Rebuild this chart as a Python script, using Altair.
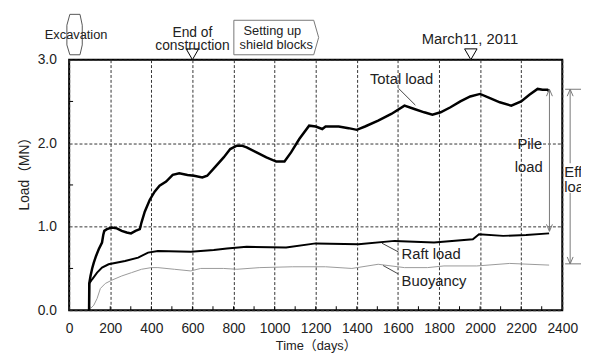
import altair as alt
import pandas as pd

# ---------------- data ----------------
total_days = [97, 98, 104, 112, 120, 131, 144, 160, 166, 171, 184, 208, 232, 256, 280, 301, 323, 344,
              352, 368, 392, 416, 440, 472, 504, 536, 576, 608, 648, 672, 712, 752, 784, 816, 840,
              864, 912, 960, 1008, 1048, 1080, 1120, 1168, 1200, 1232, 1248, 1312, 1360, 1400, 1440,
              1504, 1568, 1632, 1680, 1728, 1768, 1808, 1856, 1904, 1952, 2000, 2048, 2096, 2152,
              2200, 2240, 2280, 2304, 2328, 2336]
total_load = [0.0, 0.32, 0.41, 0.50, 0.57, 0.65, 0.73, 0.81, 0.90, 0.95, 0.97, 0.99, 0.98, 0.95, 0.93,
              0.92, 0.95, 0.97, 1.05, 1.18, 1.32, 1.42, 1.49, 1.54, 1.62, 1.64, 1.62, 1.61, 1.59, 1.61,
              1.72, 1.83, 1.93, 1.97, 1.97, 1.95, 1.89, 1.83, 1.78, 1.78, 1.89, 2.05, 2.21, 2.20, 2.17,
              2.20, 2.20, 2.18, 2.16, 2.20, 2.27, 2.35, 2.45, 2.41, 2.37, 2.34, 2.37, 2.43, 2.50, 2.56,
              2.59, 2.54, 2.49, 2.45, 2.50, 2.58, 2.65, 2.64, 2.64, 2.62]

raft_days = [97, 98, 112, 136, 160, 192, 272, 336, 384, 432, 592, 704, 768, 864, 1056, 1200, 1408,
             1584, 1776, 1965, 1995, 2112, 2224, 2336]
raft_load = [0.0, 0.32, 0.37, 0.45, 0.51, 0.55, 0.59, 0.63, 0.69, 0.71, 0.70, 0.72, 0.74, 0.76, 0.75,
             0.80, 0.79, 0.83, 0.81, 0.85, 0.91, 0.89, 0.90, 0.92]

buoy_days = [104, 120, 136, 152, 176, 208, 256, 304, 352, 400, 432, 512, 592, 640, 752, 816, 928,
             1088, 1248, 1376, 1504, 1632, 1744, 1824, 1984, 2144, 2336]
buoyancy = [0.02, 0.06, 0.14, 0.26, 0.32, 0.36, 0.41, 0.45, 0.49, 0.51, 0.51, 0.49, 0.47, 0.50, 0.50,
            0.49, 0.51, 0.52, 0.52, 0.50, 0.55, 0.51, 0.51, 0.53, 0.53, 0.56, 0.54]

x_ticks = list(range(0, 2401, 200))
x_minor = list(range(100, 2400, 100))
y_ticks = [0, 1, 2, 3]
y_minor = [0.5, 1.5, 2.5]

event_days = [600, 1955]
event_level = [3.065, 3.065]

center_labels = ["Excavation", "End of\nconstruction", "Setting up", "shield blocks",
                 "March11, 2011", "Total load", "Pile", "load"]
center_x = [34, 600, 989, 1008, 1951, 1618, 2242, 2237]
center_y = [3.295, 3.32, 3.343, 3.177, 3.248, 2.764, 1.984, 1.713]
center_size = [13, 14, 13, 13, 15, 15, 15, 15]

left_labels = ["Raft load", "Buoyancy", "Effective", "load"]
left_x = [1618, 1618, 2410, 2410]
left_y = [0.673, 0.354, 1.654, 1.476]

# outline shapes / leaders / arrows (in data units)
hex_x = [3.4, 52.8, 63.8, 63.8, 52.8, 3.4, -11, -11, 3.4]
hex_y = [3.543, 3.543, 3.413, 3.177, 3.059, 3.059, 3.177, 3.413, 3.543]
box_x = [801.6, 1190.4, 1214.4, 1190.4, 801.6, 801.6]
box_y = [3.472, 3.472, 3.266, 3.059, 3.059, 3.472]
lead_total_x, lead_total_y = [1603, 1685], [2.657, 2.456]
lead_raft_x, lead_raft_y = [1522, 1603], [0.803, 0.697]
lead_buoy_x, lead_buoy_y = [1528, 1600], [0.535, 0.437]
pile_x = 2337.6
pile_top, pile_bot = 2.646, 0.945
eff_x = 2438.4
eff_top, eff_bot = 2.646, 0.555
eff_gap = [1.76, 1.405]

# ---------------- build tables ----------------
def series_df(d, v):
    return pd.DataFrame({"day": d, "load": v})

shape_rows = []
def poly(name, xs, ys, color, width):
    for i, (a, b) in enumerate(zip(xs, ys)):
        shape_rows.append({"g": name, "o": i, "day": a, "load": b, "c": color, "w": width})

poly("hex", hex_x, hex_y, "#555", 1)
poly("box", box_x, box_y, "#777", 1)
poly("lt", lead_total_x, lead_total_y, "#444", 1)
poly("lr", lead_raft_x, lead_raft_y, "#444", 1)
poly("lb", lead_buoy_x, lead_buoy_y, "#444", 1)
hx, hy = 14.4, 0.083
poly("ps", [pile_x, pile_x], [pile_top, pile_bot], "#777", 1)
poly("pt", [pile_x - hx, pile_x, pile_x + hx], [pile_top - hy, pile_top, pile_top - hy], "#777", 1)
poly("pb", [pile_x - hx, pile_x, pile_x + hx], [pile_bot + hy, pile_bot, pile_bot + hy], "#777", 1)
poly("es1", [eff_x, eff_x], [eff_top, eff_gap[0]], "#777", 1)
poly("es2", [eff_x, eff_x], [eff_gap[1], eff_bot], "#777", 1)
poly("et", [eff_x - hx, eff_x, eff_x + hx], [eff_top - hy, eff_top, eff_top - hy], "#777", 1)
poly("eb", [eff_x - hx, eff_x, eff_x + hx], [eff_bot + hy, eff_bot, eff_bot + hy], "#777", 1)
poly("eh1", [2414, 2500], [eff_top, eff_top], "#777", 1)
poly("eh2", [2414, 2500], [eff_bot, eff_bot], "#777", 1)
shapes = pd.DataFrame(shape_rows)

xs = alt.Scale(domain=[0, 2400], nice=False, zero=False)
ys = alt.Scale(domain=[0, 3], nice=False, zero=False)
FONT = "Liberation Sans, Noto Sans CJK JP"

x_axis = alt.Axis(values=x_ticks, format="d", grid=True, gridDash=[3, 2], gridColor="#333",
                  gridWidth=1, domain=False, ticks=False, tickSize=0, labelPadding=12,
                  labelFontSize=14, labelColor="#222", labelFont=FONT, title="Time（days）",
                  titleFont=FONT, titleFontSize=13, titleFontWeight="normal", titleColor="#222",
                  titleY=36, titleBaseline="middle", labelFlush=False)
y_axis = alt.Axis(values=y_ticks, format=".1f", grid=True, gridDash=[3, 2], gridColor="#333",
                  gridWidth=1, domain=False, ticks=False, tickSize=0, labelPadding=13,
                  labelFontSize=14, labelColor="#222", labelFont=FONT, title="Load（MN）",
                  titleFont=FONT, titleFontSize=14, titleFontWeight="normal", titleColor="#222",
                  titleX=-45, titleY=112, titleAlign="center", titleBaseline="middle",
                  labelFlush=False)

X = alt.X("day:Q", scale=xs, axis=x_axis)
Y = alt.Y("load:Q", scale=ys, axis=y_axis)

total_layer = alt.Chart(series_df(total_days, total_load)).mark_line(
    color="black", strokeWidth=2.5).encode(x=X, y=Y)
raft_layer = alt.Chart(series_df(raft_days, raft_load)).mark_line(
    color="black", strokeWidth=2).encode(x=X, y=Y)
buoy_layer = alt.Chart(series_df(buoy_days, buoyancy)).mark_line(
    color="#999", strokeWidth=1).encode(x=X, y=Y)

xminor_layer = alt.Chart(pd.DataFrame({"day": x_minor})).mark_rule(
    color="black", strokeWidth=1).encode(x=X, y=alt.value(254), y2=alt.value(250))
yminor_layer = alt.Chart(pd.DataFrame({"load": y_minor})).mark_rule(
    color="black", strokeWidth=1).encode(y=Y, x=alt.value(0), x2=alt.value(4))

shape_layer = alt.Chart(shapes).mark_line().encode(
    x=X, y=Y, detail="g:N", order="o:Q", color=alt.Color("c:N", scale=None),
    strokeWidth=alt.StrokeWidth("w:Q", scale=None))

event_layer = alt.Chart(pd.DataFrame({"day": event_days, "load": event_level})).mark_point(
    shape="triangle-down", filled=True, fill="white", stroke="black", strokeWidth=1,
    size=160, opacity=1).encode(x=X, y=Y)

center_layer = alt.Chart(pd.DataFrame({"t": center_labels, "day": center_x, "load": center_y,
                                       "s": center_size})).mark_text(
    align="center", baseline="middle", font=FONT, color="#222", lineBreak="\n",
    lineHeight=13).encode(
    x=X, y=Y, text="t:N", size=alt.Size("s:Q", scale=None))
left_layer = alt.Chart(pd.DataFrame({"t": left_labels, "day": left_x, "load": left_y})).mark_text(
    align="left", baseline="middle", font=FONT, color="#222", fontSize=15).encode(
    x=X, y=Y, text="t:N")

chart = alt.layer(
    total_layer, raft_layer, buoy_layer, xminor_layer, yminor_layer,
    shape_layer, event_layer, center_layer, left_layer
).properties(
    width=500, height=254,
    autosize=alt.AutoSizeParams(type="none"),
    padding={"left": 62, "top": 50, "right": 19, "bottom": 42},
).configure(background="white").configure_view(stroke="black", strokeWidth=2)

chart.save("out.html", embed_options={"renderer": "svg", "actions": False})
